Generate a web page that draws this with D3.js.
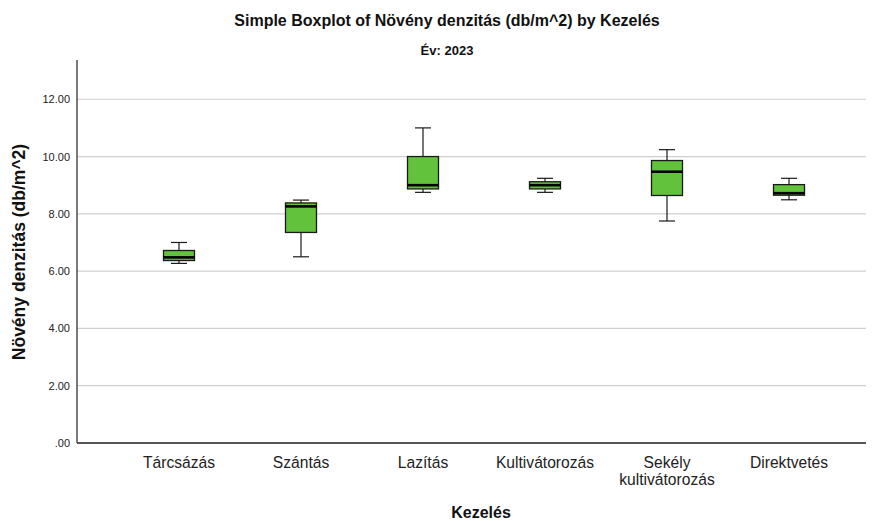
<!DOCTYPE html>
<html>
<head>
<meta charset="utf-8">
<script src="https://cdn.jsdelivr.net/npm/d3@7/dist/d3.min.js"></script>
<style>
  html, body { margin: 0; padding: 0; background: #fff; }
  svg { display: block; font-family: "Liberation Sans", Arial, sans-serif; }
</style>
</head>
<body>
<svg id="chart" width="875" height="521"></svg>
<script>
// Treatment groups (Kezelés)
const categories = ["Tárcsázás", "Szántás", "Lazítás", "Kultivátorozás", "Sekély kultivátorozás", "Direktvetés"];
// Label lines under each box
const categoryLines = [["Tárcsázás"], ["Szántás"], ["Lazítás"], ["Kultivátorozás"], ["Sekély", "kultivátorozás"], ["Direktvetés"]];
// Five-number summaries, plant density (db/m^2), year 2023
const whiskerLow  = [6.27, 6.50, 8.75, 8.75, 7.75, 8.49];
const quartile1   = [6.37, 7.35, 8.87, 8.87, 8.64, 8.65];
const medians     = [6.48, 8.26, 9.00, 9.00, 9.47, 8.72];
const quartile3   = [6.72, 8.38, 10.00, 9.12, 9.86, 9.02];
const whiskerHigh = [7.00, 8.48, 11.00, 9.24, 10.24, 9.24];
// Y axis ticks
const yTicks = [0, 2, 4, 6, 8, 10, 12];
const yTickLabels = [".00", "2.00", "4.00", "6.00", "8.00", "10.00", "12.00"];

const titleText = "Simple Boxplot of Növény denzitás (db/m^2) by Kezelés";
const subtitleText = "Év: 2023";
const xTitle = "Kezelés";
const yTitle = "Növény denzitás (db/m^2)";

const svg = d3.select("#chart");
const plot = { left: 77, right: 866, top: 60, bottom: 443 };

const x = d3.scalePoint().domain(categories).range([179, 789]);
const y = d3.scaleLinear().domain([0, 13.37]).range([plot.bottom, plot.top]);

const boxW = 31, capW = 16;

// Horizontal grid lines
svg.append("g")
  .selectAll("line")
  .data(yTicks.filter(d => d > 0))
  .join("line")
  .attr("x1", plot.left).attr("x2", plot.right)
  .attr("y1", d => y(d)).attr("y2", d => y(d))
  .attr("stroke", "#cfcfcf").attr("stroke-width", 1.2);

// Y axis with its tick labels
const yAxis = d3.axisLeft(y)
  .tickValues(yTicks)
  .tickSize(0)
  .tickPadding(7)
  .tickFormat((d, i) => yTickLabels[i]);
const gy = svg.append("g").attr("transform", `translate(${plot.left},0)`).call(yAxis);
gy.select(".domain").remove();
gy.selectAll("text").attr("font-size", 11).attr("fill", "#222")
  .attr("font-family", "'Liberation Sans', Arial, sans-serif");

// Axis lines
svg.append("line")
  .attr("x1", plot.left).attr("x2", plot.left)
  .attr("y1", plot.top).attr("y2", plot.bottom)
  .attr("stroke", "#333").attr("stroke-width", 1.3);
svg.append("line")
  .attr("x1", plot.left).attr("x2", plot.right)
  .attr("y1", plot.bottom).attr("y2", plot.bottom)
  .attr("stroke", "#555").attr("stroke-width", 2);

// Box plots
const rows = categories.map((c, i) => ({
  c, lo: whiskerLow[i], q1: quartile1[i], med: medians[i], q3: quartile3[i], hi: whiskerHigh[i]
}));
const g = svg.append("g").selectAll("g").data(rows).join("g")
  .attr("transform", d => `translate(${x(d.c)},0)`);

// whisker stems
g.append("line").attr("x1", 0).attr("x2", 0)
  .attr("y1", d => y(d.hi)).attr("y2", d => y(d.q3))
  .attr("stroke", "#1a1a1a").attr("stroke-width", 1.2);
g.append("line").attr("x1", 0).attr("x2", 0)
  .attr("y1", d => y(d.q1)).attr("y2", d => y(d.lo))
  .attr("stroke", "#1a1a1a").attr("stroke-width", 1.2);
// whisker caps
g.append("line").attr("x1", -capW / 2).attr("x2", capW / 2)
  .attr("y1", d => y(d.hi)).attr("y2", d => y(d.hi))
  .attr("stroke", "#1a1a1a").attr("stroke-width", 1.2);
g.append("line").attr("x1", -capW / 2).attr("x2", capW / 2)
  .attr("y1", d => y(d.lo)).attr("y2", d => y(d.lo))
  .attr("stroke", "#1a1a1a").attr("stroke-width", 1.2);
// boxes
g.append("rect")
  .attr("x", -boxW / 2).attr("width", boxW)
  .attr("y", d => y(d.q3)).attr("height", d => y(d.q1) - y(d.q3))
  .attr("fill", "#62c23c").attr("stroke", "#1a1a1a").attr("stroke-width", 1.3);
// medians
g.append("line").attr("x1", -boxW / 2).attr("x2", boxW / 2)
  .attr("y1", d => y(d.med)).attr("y2", d => y(d.med))
  .attr("stroke", "#000").attr("stroke-width", 2.6);

// Category labels (slightly condensed)
const labels = svg.append("g").selectAll("text").data(categories).join("text")
  .attr("transform", d => `translate(${x(d)},468) scale(0.92,1)`)
  .attr("text-anchor", "middle").attr("font-size", 17).attr("fill", "#222");
labels.each(function (d, i) {
  d3.select(this).selectAll("tspan").data(categoryLines[i]).join("tspan")
    .attr("x", 0).attr("dy", (t, j) => j === 0 ? 0 : 17)
    .text(t => t);
});

// Titles
svg.append("text").attr("x", 447).attr("y", 26).attr("text-anchor", "middle")
  .attr("font-size", 16).attr("font-weight", "bold").attr("fill", "#111").text(titleText);
svg.append("text").attr("x", 447).attr("y", 55).attr("text-anchor", "middle")
  .attr("font-size", 13).attr("font-weight", "bold").attr("fill", "#111").text(subtitleText);
svg.append("text").attr("x", 481).attr("y", 518).attr("text-anchor", "middle")
  .attr("font-size", 16).attr("font-weight", "bold").attr("fill", "#111").text(xTitle);
svg.append("text").attr("transform", "translate(25,252) rotate(-90)").attr("text-anchor", "middle")
  .attr("font-size", 17.5).attr("font-weight", "bold").attr("fill", "#111").text(yTitle);
</script>
</body>
</html>
